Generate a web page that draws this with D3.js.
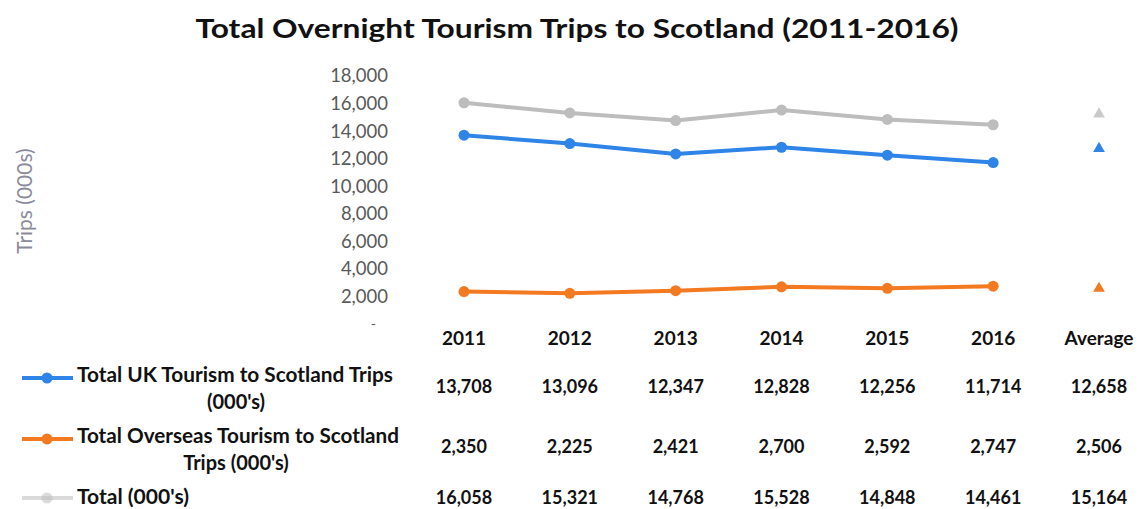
<!DOCTYPE html>
<html>
<head>
<meta charset="utf-8">
<script src="https://cdn.jsdelivr.net/npm/d3@7"></script>
<style>
  html, body { margin: 0; padding: 0; background: #ffffff; }
  svg { display: block; }
</style>
</head>
<body>
<svg id="chart" width="1139" height="509"></svg>
<script>
// Overnight trips to Scotland, thousands
const years = ["2011", "2012", "2013", "2014", "2015", "2016"];
const categories = ["2011", "2012", "2013", "2014", "2015", "2016", "Average"];
const ukTrips = [13708, 13096, 12347, 12828, 12256, 11714];
const overseasTrips = [2350, 2225, 2421, 2700, 2592, 2747];
const totalTrips = [16058, 15321, 14768, 15528, 14848, 14461];
const ukAverage = 12658;
const overseasAverage = 2506;
const totalAverage = 15164;
const yTicks = [0, 2000, 4000, 6000, 8000, 10000, 12000, 14000, 16000, 18000];

const seriesNames = [
  ["Total UK Tourism to Scotland Trips", "(000's)"],
  ["Total Overseas Tourism to Scotland", "Trips (000's)"],
  ["Total (000's)"]
];

const colors = { uk: "#2f84e8", overseas: "#f47a22", total: "#bdbdbd" };

const svg = d3.select("#chart");
const font = "Lato, 'Open Sans', sans-serif";

const x = d3.scalePoint().domain(categories).range([464, 1099]);
const y = d3.scaleLinear().domain([0, 18000]).range([324, 76]);

// Title
svg.append("text")
  .attr("x", 577).attr("y", 38)
  .attr("text-anchor", "middle")
  .attr("font-family", font).attr("font-weight", 700)
  .attr("font-size", 26).attr("fill", "#111")
  .attr("textLength", 763).attr("lengthAdjust", "spacingAndGlyphs")
  .text("Total Overnight Tourism Trips to Scotland (2011-2016)");

// Y axis title
svg.append("text")
  .attr("transform", "translate(32,201) rotate(-90)")
  .attr("text-anchor", "middle")
  .attr("font-family", font).attr("font-size", 21)
  .attr("fill", "#8a8a9c")
  .text("Trips (000s)");

// Y axis labels (accounting style: zero shown as a dash)
const yAxis = d3.axisLeft(y)
  .tickValues(yTicks)
  .tickSize(0)
  .tickPadding(0)
  .tickFormat(d => d === 0 ? "-" : d3.format(",")(d));

const yg = svg.append("g")
  .attr("transform", "translate(388,0)")
  .call(yAxis);
yg.select(".domain").remove();
yg.selectAll("text")
  .attr("font-family", font).attr("font-size", 18.5)
  .attr("fill", "#595959");
yg.selectAll(".tick").filter(d => d === 0).select("text")
  .attr("x", -12).attr("font-size", 14);

// Lines
const line = d3.line().x((d, i) => x(years[i])).y(d => y(d));

const series = [
  { key: "total", values: totalTrips, avg: totalAverage },
  { key: "uk", values: ukTrips, avg: ukAverage },
  { key: "overseas", values: overseasTrips, avg: overseasAverage }
];

series.forEach(s => {
  svg.append("path")
    .datum(s.values)
    .attr("d", line)
    .attr("fill", "none")
    .attr("stroke", colors[s.key])
    .attr("stroke-width", 4)
    .attr("stroke-linejoin", "round");
  svg.append("g").selectAll("circle")
    .data(s.values)
    .join("circle")
    .attr("cx", (d, i) => x(years[i]))
    .attr("cy", d => y(d))
    .attr("r", 5.5)
    .attr("fill", colors[s.key]);
  // Average marker
  svg.append("path")
    .attr("d", d3.symbol(d3.symbolTriangle, 60)())
    .attr("transform", `translate(${x("Average")},${y(s.avg) - 1})`)
    .attr("fill", colors[s.key])
    .attr("opacity", s.key === "total" ? 0.8 : 1);
});

// Data table: header row
svg.append("g").selectAll("text")
  .data(categories)
  .join("text")
  .attr("x", d => x(d))
  .attr("y", 345)
  .attr("text-anchor", "middle")
  .attr("font-family", font).attr("font-weight", 700)
  .attr("font-size", 19).attr("fill", "#111")
  .text(d => d);

// Data table: value rows
const rows = [
  { key: "uk", values: ukTrips.concat([ukAverage]), y: 393, legendY: [382, 409], markY: 378 },
  { key: "overseas", values: overseasTrips.concat([overseasAverage]), y: 453, legendY: [443, 470], markY: 439 },
  { key: "total", values: totalTrips.concat([totalAverage]), y: 504, legendY: [504], markY: 498 }
];

rows.forEach((r, ri) => {
  svg.append("g").selectAll("text")
    .data(r.values)
    .join("text")
    .attr("x", (d, i) => x(categories[i]))
    .attr("y", r.y)
    .attr("text-anchor", "middle")
    .attr("font-family", font).attr("font-weight", 700)
    .attr("font-size", 18).attr("fill", "#111")
    .text(d => d3.format(",")(d));

  // Legend key
  const op = r.key === "total" ? 0.55 : 1;
  svg.append("line")
    .attr("x1", 22).attr("x2", 73)
    .attr("y1", r.markY).attr("y2", r.markY)
    .attr("stroke", colors[r.key]).attr("stroke-width", 4)
    .attr("opacity", op);
  svg.append("circle")
    .attr("cx", 47).attr("cy", r.markY).attr("r", 5.5)
    .attr("fill", colors[r.key]).attr("opacity", op);

  // Legend label: first line left-aligned, wrapped line centred
  const firstWidths = [316, 322, 112];
  seriesNames[ri].forEach((t, li) => {
    const txt = svg.append("text")
      .attr("y", r.legendY[li])
      .attr("font-family", font).attr("font-weight", 700)
      .attr("font-size", 20).attr("fill", "#111")
      .text(t);
    if (li === 0) {
      txt.attr("x", 77).attr("textLength", firstWidths[ri]).attr("lengthAdjust", "spacingAndGlyphs");
    } else {
      txt.attr("x", 236).attr("text-anchor", "middle");
    }
  });
});
</script>
</body>
</html>
